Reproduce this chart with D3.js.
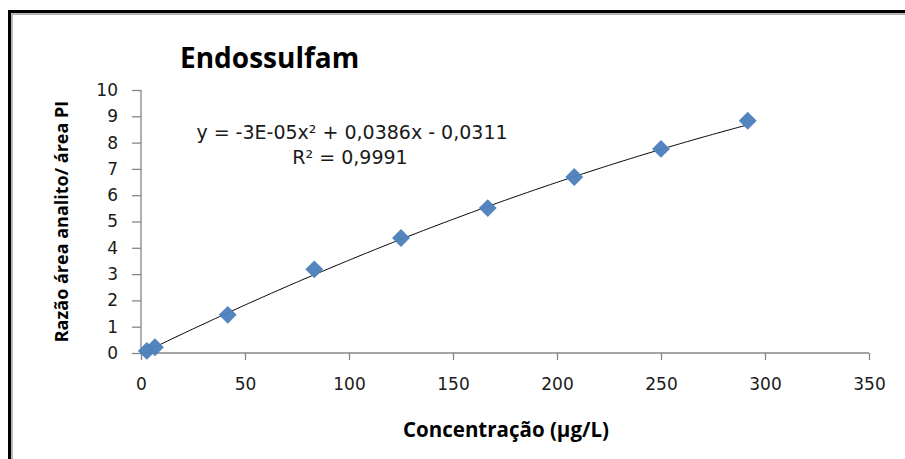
<!DOCTYPE html>
<html>
<head>
<meta charset="utf-8">
<script src="https://cdn.jsdelivr.net/npm/d3@7"></script>
<style>
  html, body { margin: 0; padding: 0; background: #fff; }
  svg { display: block; }
</style>
</head>
<body>
<svg id="chart" width="905" height="459"></svg>
<script>
// Calibration points: concentration (µg/L) vs analyte/IS area ratio
const concentration = [2.8, 6.7, 41.7, 83.3, 125, 166.7, 208.3, 250, 291.7];
const areaRatio     = [0.08, 0.22, 1.45, 3.18, 4.37, 5.51, 6.69, 7.76, 8.83];

// Quadratic trendline coefficients (a x^2 + b x + c)
const fitA = -3e-5, fitB = 0.0386, fitC = -0.0311;

const xTicks = [0, 50, 100, 150, 200, 250, 300, 350];
const yTicks = [0, 1, 2, 3, 4, 5, 6, 7, 8, 9, 10];

const titleText = "Endossulfam";
const xTitle = "Concentração (µg/L)";
const yTitle = "Razão área analito/ área PI";
const eqText = "y = -3E-05x² + 0,0386x - 0,0311";
const r2Text = "R² = 0,9991";

const svg = d3.select("#chart");
const boldFont = "'Open Sans', 'Liberation Sans', sans-serif";
const plainFont = "'DejaVu Sans', 'Liberation Sans', sans-serif";

// frame: dark outer line with a lighter inner line
svg.append("path").attr("d", "M9.5,470 V11.5 H920")
  .attr("fill", "none").attr("stroke", "#000").attr("stroke-width", 3);
svg.append("path").attr("d", "M12,470 V14 H920")
  .attr("fill", "none").attr("stroke", "#a0a0a0").attr("stroke-width", 1.5);

const x = d3.scaleLinear().domain([0, 350]).range([141, 869]);
const y = d3.scaleLinear().domain([0, 10]).range([353, 90]);

const axisColor = "#868686";
const labelColor = "#1a1a1a";

// y axis
const gy = svg.append("g").attr("transform", `translate(${x(0)},0)`)
  .call(d3.axisLeft(y).tickValues(yTicks).tickSize(9).tickPadding(14).tickFormat(d3.format("d")));
// x axis
const gx = svg.append("g").attr("transform", `translate(0,${y(0)})`)
  .call(d3.axisBottom(x).tickValues(xTicks).tickSize(7).tickPadding(18).tickFormat(d3.format("d")));

[gx, gy].forEach(g => {
  g.select(".domain").attr("stroke", axisColor).attr("stroke-width", 1.3);
  g.selectAll(".tick line").attr("stroke", axisColor).attr("stroke-width", 1.3);
  g.selectAll(".tick text").attr("fill", labelColor)
    .attr("font-family", plainFont).attr("font-size", 17);
});
gx.select(".domain").attr("d", `M${x(0)},0H${x(350)}`);
gy.select(".domain").attr("d", `M0,${y(10)}V${y(0)}`);

// trendline across the data range
const xs = d3.range(concentration[0], d3.max(concentration) + 0.01, 1);
if (xs[xs.length - 1] < d3.max(concentration)) xs.push(d3.max(concentration));
svg.append("path")
  .datum(xs)
  .attr("fill", "none").attr("stroke", "#000").attr("stroke-width", 1)
  .attr("d", d3.line().x(d => x(d)).y(d => y(fitA * d * d + fitB * d + fitC)));

// diamond markers
const diamond = d3.symbol().type(d3.symbolSquare).size(160);
svg.append("g").selectAll("path")
  .data(concentration.map((c, i) => [c, areaRatio[i]]))
  .join("path")
  .attr("d", diamond)
  .attr("transform", d => `translate(${x(d[0])},${y(d[1])}) rotate(45)`)
  .attr("fill", "#4f81bd").attr("opacity", 0.97);

// title
svg.append("text").attr("x", 180).attr("y", 68)
  .attr("font-family", boldFont).attr("font-weight", "bold").attr("font-size", 28)
  .attr("fill", "#000").text(titleText);

// equation and R²
svg.append("text").attr("x", 352).attr("y", 139).attr("text-anchor", "middle")
  .attr("font-family", plainFont).attr("font-size", 19).attr("fill", labelColor).text(eqText);
svg.append("text").attr("x", 350).attr("y", 164).attr("text-anchor", "middle")
  .attr("font-family", plainFont).attr("font-size", 19).attr("fill", labelColor).text(r2Text);

// axis titles
svg.append("text").attr("x", 506).attr("y", 437).attr("text-anchor", "middle")
  .attr("font-family", boldFont).attr("font-weight", "bold").attr("font-size", 20.5)
  .attr("fill", "#000").text(xTitle);
svg.append("text")
  .attr("transform", `translate(68,${(y(0) + y(10)) / 2}) rotate(-90)`)
  .attr("text-anchor", "middle")
  .attr("font-family", boldFont).attr("font-weight", "bold").attr("font-size", 18)
  .attr("fill", "#000").text(yTitle);
</script>
</body>
</html>
